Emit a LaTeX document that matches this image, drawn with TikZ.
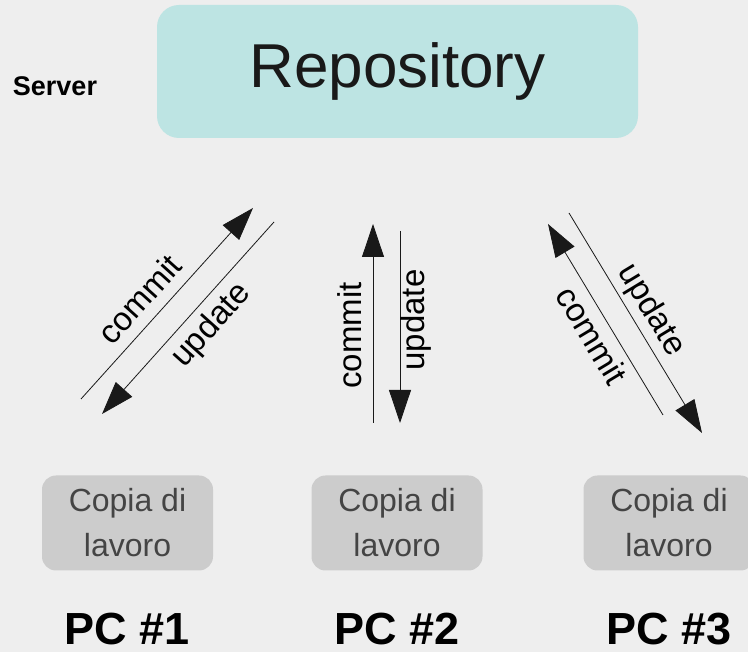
\documentclass[tikz,border=0pt]{standalone}
\usepackage{fontspec}
\setmainfont{Liberation Sans}
\usetikzlibrary{positioning}
\usetikzlibrary{arrows.meta}
\definecolor{bgcol}{HTML}{EEEEEE}
\definecolor{repocol}{HTML}{BDE4E3}
\definecolor{copycol}{HTML}{CCCCCC}
\definecolor{copytext}{HTML}{444444}

\begin{document}
\begin{tikzpicture}[x=1pt,y=1pt,
	copybox/.style = {fill = copycol, rectangle, rounded corners = 14pt, minimum width = 171pt, minimum height = 95pt, align = center, text = copytext, font = \fontsize{32}{45}\selectfont},
	pclabel/.style = {inner sep = 0pt, font = \fontsize{45}{54}\selectfont\bfseries},
	flow/.style = {line width = 0.8pt, black!90, -{Triangle[length = 33pt, width = 22pt]}},
	flowlabel/.style = {inner sep = 0pt, text = black, font = \fontsize{33}{40}\selectfont}]
		\useasboundingbox[fill = bgcol] (0,0) rectangle (748,652);
		\clip (0,0) rectangle (748,652);
		% server side
		\node[fill = repocol, rectangle, rounded corners = 22pt, minimum width = 481pt, minimum height = 133pt, text = black!90, font = \fontsize{62}{70}\selectfont] at (397.5,580.5) (repo) {Repository};
		\node[font = \fontsize{27}{32}\selectfont\bfseries] at (55,566) (server) {Server};
		% working copies
		\node[copybox] at (127.5,129) (copy1) {Copia di\\lavoro};
		\node[copybox] at (397,129) (copy2) {Copia di\\lavoro};
		\node[copybox] at (669,129) (copy3) {Copia di\\lavoro};
		\node[pclabel, below = 42pt of copy1] (pc1) {PC \#1};
		\node[pclabel, below = 42pt of copy2] (pc2) {PC \#2};
		\node[pclabel, below = 42pt of copy3] (pc3) {PC \#3};
		% arrow ends
		\coordinate (c1s) at (81,253);
		\coordinate (c1e) at (253,444);
		\coordinate (u1s) at (274,430);
		\coordinate (u1e) at (102,238);
		\coordinate (c2s) at (373,229);
		\coordinate (c2e) at (373,428);
		\coordinate (u2s) at (400,421);
		\coordinate (u2e) at (400,229);
		\coordinate (c3s) at (663,237);
		\coordinate (c3e) at (548,428);
		\coordinate (u3s) at (569,439);
		\coordinate (u3e) at (702,219);
		\draw[flow] (c1s) -- node[flowlabel, sloped, pos = 0.44, above = 11pt] (commit1) {commit} (c1e);
		\draw[flow] (u1s) -- node[flowlabel, sloped, pos = 0.46, below = 7pt] (update1) {update} (u1e);
		\draw[flow] (c2s) -- node[flowlabel, sloped, pos = 0.44, above = 11pt] (commit2) {commit} (c2e);
		\draw[flow] (u2s) -- node[flowlabel, rotate = 90, pos = 0.5, anchor = north, xshift = 7pt] (update2) {update} (u2e);
		\draw[flow] (c3s) -- node[flowlabel, sloped, pos = 0.47, below = 7pt] (commit3) {commit} (c3e);
		\draw[flow] (u3s) -- node[flowlabel, sloped, pos = 0.49, above = 4pt] (update3) {update} (u3e);
	\end{tikzpicture}
\end{document}
